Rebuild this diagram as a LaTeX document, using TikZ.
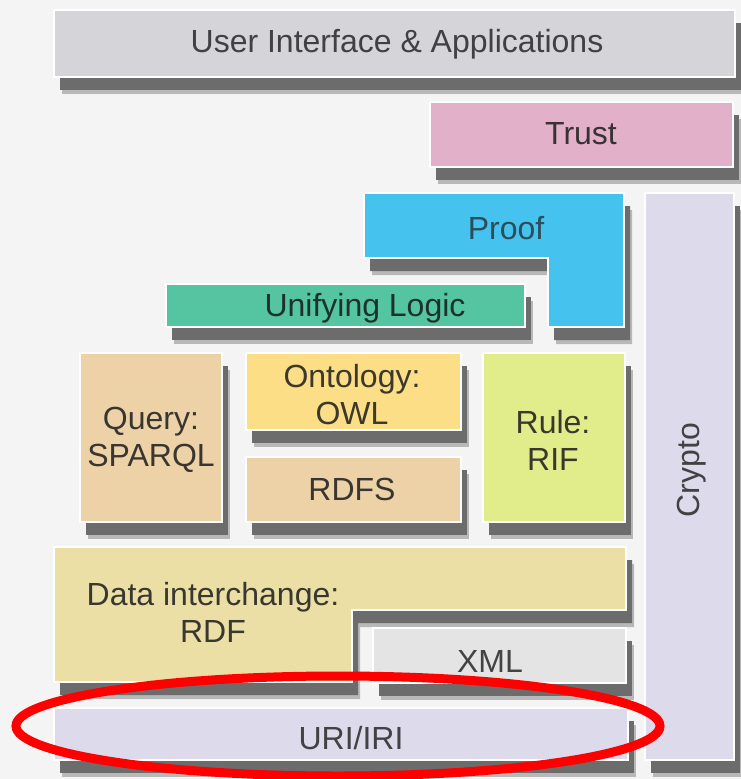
\documentclass[tikz,border=0pt]{standalone}
\usepackage{fontspec}
\setmainfont{Liberation Sans}
\definecolor{bgc}{HTML}{F4F4F4}
\definecolor{uic}{HTML}{D4D4D9}
\definecolor{trustc}{HTML}{E2B0C8}
\definecolor{proofc}{HTML}{45C2EE}
\definecolor{cryptoc}{HTML}{DCDAEB}
\definecolor{unifc}{HTML}{55C4A0}
\definecolor{queryc}{HTML}{EDD2A8}
\definecolor{ontoc}{HTML}{FCDE86}
\definecolor{rdfsc}{HTML}{EDD2A8}
\definecolor{rulec}{HTML}{E1EC8A}
\definecolor{datac}{HTML}{EBDFA6}
\definecolor{xmlc}{HTML}{E4E4E4}
\definecolor{uric}{HTML}{DCDAEB}
\definecolor{shdark}{HTML}{6C6C6C}
\definecolor{shlight}{HTML}{B8B8B8}
\newcommand\layerpaths[1]{%
  \fill[#1] (54,10) rectangle (735,77);
  \fill[#1] (430,102) rectangle (733,167);
  \fill[#1] (364,193) -- (624,193) -- (624,327) -- (548,327) -- (548,258) -- (364,258) -- cycle;
  \fill[#1] (645,193) rectangle (734,760);
  \fill[#1] (166,284) rectangle (525,327);
  \fill[#1] (80,353) rectangle (222,522);
  \fill[#1] (246,353) rectangle (461,430);
  \fill[#1] (246,457) rectangle (461,522);
  \fill[#1] (483,353) rectangle (625,522);
  \fill[#1] (54,547) -- (626,547) -- (626,610) -- (352,610) -- (352,682) -- (54,682) -- cycle;
  \fill[#1] (373,628) rectangle (626,683);
  \fill[#1] (54,708) rectangle (628,760);
}
\begin{document}
\begin{tikzpicture}[x=1pt,y=-1pt,
  lbl/.style={font=\fontsize{32}{37}\selectfont, align=center, inner sep=0pt},
  layer/.style={draw=white, line width=1.2pt}]
\useasboundingbox (0,0) rectangle (741,779);
\fill[bgc] (0,0) rectangle (741,779);
% shadows
\layerpaths{shlight, shift={(8,17)}}
\layerpaths{shdark, shift={(6,13)}}
% layers
\filldraw[layer, fill=uic] (54,10) rectangle (735,77);
\filldraw[layer, fill=trustc] (430,102) rectangle (733,167);
\filldraw[layer, fill=proofc] (364,193) -- (624,193) -- (624,327) -- (548,327) -- (548,258) -- (364,258) -- cycle;
\filldraw[layer, fill=cryptoc] (645,193) rectangle (734,760);
\filldraw[layer, fill=unifc] (166,284) rectangle (525,327);
\filldraw[layer, fill=queryc] (80,353) rectangle (222,522);
\filldraw[layer, fill=ontoc] (246,353) rectangle (461,430);
\filldraw[layer, fill=rdfsc] (246,457) rectangle (461,522);
\filldraw[layer, fill=rulec] (483,353) rectangle (625,522);
\filldraw[layer, fill=datac] (54,547) -- (626,547) -- (626,610) -- (352,610) -- (352,682) -- (54,682) -- cycle;
\filldraw[layer, fill=xmlc] (373,628) rectangle (626,683);
\filldraw[layer, fill=uric] (54,708) rectangle (628,760);
% labels
\node[lbl, text=uic!15!black!85] (ui) at (397,44) {User Interface \& Applications};
\node[lbl, text=trustc!15!black!90] (trust) at (581,134) {Trust};
\node[lbl, text=proofc!30!black!90] (proof) at (506,228) {Proof};
\node[lbl, text=unifc!20!black!95] (unif) at (365,308) {Unifying Logic};
\node[lbl, text=queryc!15!black!90] (query) at (151,440) {Query:\\SPARQL};
\node[lbl, text=ontoc!15!black!90] (onto) at (352,395) {Ontology:\\OWL};
\node[lbl, text=rdfsc!15!black!90] (rdfs) at (352,489) {RDFS};
\node[lbl, text=rulec!15!black!90] (rule) at (553,440) {Rule:\\RIF};
\node[lbl, text=cryptoc!15!black!85, rotate=90] (crypto) at (692,470) {Crypto};
\node[lbl, text=datac!15!black!90] (data) at (213,612) {Data interchange:\\RDF};
\node[lbl, text=xmlc!15!black!85] (xml) at (490,661) {XML};
\node[lbl, text=uric!15!black!85] (uri) at (351,738) {URI/IRI};
% highlight
\draw[red, line width=9pt] (338,726) ellipse [x radius=322, y radius=50];
\end{tikzpicture}
\end{document}
